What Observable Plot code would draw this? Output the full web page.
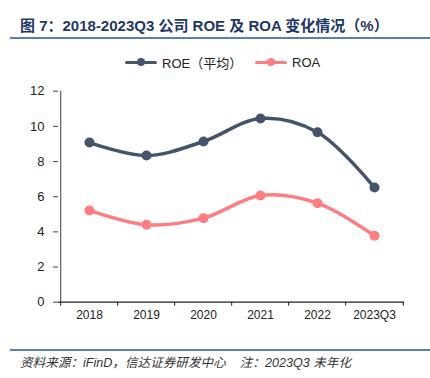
<!DOCTYPE html>
<html><head><meta charset="utf-8">
<script src="https://cdn.jsdelivr.net/npm/d3@7"></script>
<script src="https://cdn.jsdelivr.net/npm/@observablehq/plot@0.6"></script>
<style>
body{margin:0;background:#fff;width:430px;height:378px;position:relative;overflow:hidden;font-family:"Liberation Sans",Arial,sans-serif;}
#title{position:absolute;left:20px;top:14px;font-size:15px;font-weight:bold;color:#1f3864;font-family:"Liberation Sans","Noto Sans CJK SC",sans-serif;white-space:nowrap;}
#tline{position:absolute;left:10px;top:37px;width:420px;height:2px;background:#5a7db5;}
#legend{position:absolute;top:53px;left:0;width:430px;height:20px;font-size:13px;color:#222;font-family:"Liberation Sans","Noto Sans CJK SC",sans-serif;}
.li{position:absolute;top:0;display:flex;align-items:center;height:18px;}
.sw{position:relative;width:32px;height:18px;margin-right:5px;}
.sw .l{position:absolute;left:0;top:7.5px;width:32px;height:3.5px;border-radius:2px;}
.sw .d{position:absolute;left:12px;top:5px;width:8px;height:8px;border-radius:50%;}
#chart{position:absolute;left:0;top:80px;}
#fline{position:absolute;left:10px;top:349px;width:420px;height:1.5px;background:#5a7db5;}
#foot{position:absolute;left:20px;top:352px;font-size:12.6px;font-style:italic;color:#333;white-space:nowrap;font-family:"Liberation Sans","Noto Sans CJK SC",sans-serif;}
#foot .n{margin-left:14px;}
</style></head>
<body>
<div id="title">图 7：2018-2023Q3 公司 ROE 及 ROA 变化情况（%）</div>
<div id="tline"></div>
<div id="legend"></div>
<div id="chart"></div>
<div id="fline"></div>
<div id="foot">资料来源：iFinD，信达证券研发中心<span class="n">注：2023Q3 未年化</span></div>
<script>
const categories = ["2018","2019","2020","2021","2022","2023Q3"];
const roe = [9.08, 8.34, 9.14, 10.45, 9.67, 6.52];
const roa = [5.22, 4.40, 4.78, 6.07, 5.63, 3.78];
const seriesNames = ["ROE（平均）", "ROA"];
const seriesColors = ["#44546a", "#ff7c80"];
const yTicks = [0, 2, 4, 6, 8, 10, 12];

const data = [];
categories.forEach((c, i) => {
  data.push({cat: c, value: roe[i], series: seriesNames[0]});
  data.push({cat: c, value: roa[i], series: seriesNames[1]});
});

const W = 430, H = 250, mL = 58, mR = 26, mT = 10.7, mB = 28.3;
const step = (W - mL - mR) / categories.length;

const chart = Plot.plot({
  width: W, height: H,
  marginLeft: mL, marginRight: mR, marginTop: mT, marginBottom: mB,
  style: {fontFamily: "Liberation Sans, Arial, sans-serif", fontSize: "12px", color: "#222", background: "#fff"},
  x: {type: "point", domain: categories, padding: 0.5, label: null},
  y: {domain: [0, 12], label: null},
  color: {domain: seriesNames, range: seriesColors},
  marks: [
    Plot.ruleX([categories[0]], {x: d => d, y1: 0, y2: 12, dx: -step/2, stroke: "#6b6b6b", strokeWidth: 1.3}),
    Plot.ruleY([0], {stroke: "#222", strokeWidth: 1.3}),
    Plot.axisY({ticks: yTicks, tickSize: 5, tickPadding: 9, stroke: "#444", fontSize: 13, label: null}),
    Plot.axisX({ticks: categories, tickSize: 0, tickPadding: 8, fontSize: 12, label: null}),
    Plot.axisX({ticks: categories, tickSize: 4, dx: -step/2, tickFormat: () => "", stroke: "#222", label: null}),
    Plot.axisX({ticks: [categories[categories.length-1]], tickSize: 4, dx: step/2, tickFormat: () => "", stroke: "#222", label: null}),
    Plot.line(data, {x: "cat", y: "value", z: "series", stroke: "series", strokeWidth: 3.5, curve: "catmull-rom"}),
    Plot.dot(data, {x: "cat", y: "value", fill: "series", r: 5})
  ]
});
document.getElementById("chart").appendChild(chart);

const legend = document.getElementById("legend");
const lefts = [125, 255];
seriesNames.forEach((n, i) => {
  const it = document.createElement("div");
  it.className = "li";
  it.style.left = lefts[i] + "px";
  it.innerHTML = `<div class="sw"><div class="l" style="background:${seriesColors[i]}"></div><div class="d" style="background:${seriesColors[i]}"></div></div><span>${n}</span>`;
  legend.appendChild(it);
});
</script>
</body></html>
